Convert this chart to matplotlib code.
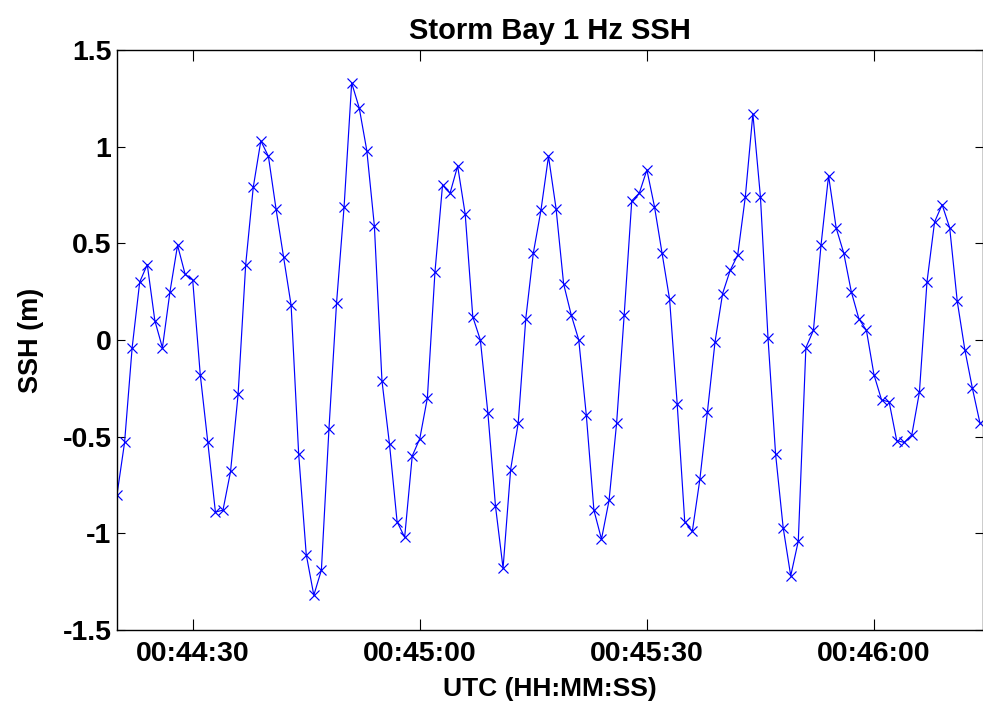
import matplotlib
matplotlib.use("Agg")
import matplotlib.pyplot as plt
from matplotlib.ticker import FuncFormatter, FixedLocator
import numpy as np

plt.rcParams['font.family'] = ['Liberation Sans', 'DejaVu Sans']
plt.rcParams['axes.unicode_minus'] = False

# time of first sample (seconds after midnight, UTC) and 1 Hz sampling
start_time_s = 44 * 60 + 20  # 00:44:20
ssh = [
    -0.80, -0.53, -0.04, 0.30, 0.39, 0.10, -0.04, 0.25, 0.49, 0.34,
    0.31, -0.18, -0.53, -0.89, -0.88, -0.68, -0.28, 0.39, 0.79, 1.03,
    0.95, 0.68, 0.43, 0.18, -0.59, -1.11, -1.32, -1.19, -0.46, 0.19,
    0.69, 1.33, 1.20, 0.98, 0.59, -0.21, -0.54, -0.94, -1.02, -0.60,
    -0.51, -0.30, 0.35, 0.80, 0.76, 0.90, 0.65, 0.12, 0.00, -0.38,
    -0.86, -1.18, -0.67, -0.43, 0.11, 0.45, 0.67, 0.95, 0.68, 0.29,
    0.13, 0.00, -0.39, -0.88, -1.03, -0.83, -0.43, 0.13, 0.72, 0.76,
    0.88, 0.69, 0.45, 0.21, -0.33, -0.94, -0.99, -0.72, -0.37, -0.01,
    0.24, 0.36, 0.44, 0.74, 1.17, 0.74, 0.01, -0.59, -0.97, -1.22,
    -1.04, -0.04, 0.05, 0.49, 0.85, 0.58, 0.45, 0.25, 0.11, 0.05,
    -0.18, -0.31, -0.32, -0.52, -0.53, -0.49, -0.27, 0.30, 0.61, 0.70,
    0.58, 0.20, -0.05, -0.25, -0.43,
]
times_s = [start_time_s + i for i in range(len(ssh))]

x_tick_labels = ["00:44:30", "00:45:00", "00:45:30", "00:46:00"]
y_ticks = [-1.5, -1, -0.5, 0, 0.5, 1, 1.5]

def hms_to_s(s):
    h, m, sec = (int(v) for v in s.split(":"))
    return h * 3600 + m * 60 + sec

fig = plt.figure(figsize=(9.83, 7.03), dpi=100)
ax = fig.add_axes([117 / 983, 1 - 630 / 703, 1 - 117 / 983, (630 - 50) / 703])

ax.plot(times_s, ssh, color=(0, 0, 1), linewidth=0.85, marker='x',
        markersize=6.5, markeredgewidth=0.85)

ax.set_xlim(times_s[0], times_s[-1] + 0.4)
ax.set_ylim(-1.5, 1.5)
ax.xaxis.set_major_locator(FixedLocator([hms_to_s(t) for t in x_tick_labels]))
ax.xaxis.set_major_formatter(FuncFormatter(
    lambda v, p: "%02d:%02d:%02d" % (int(v) // 3600, (int(v) % 3600) // 60, int(v) % 60)))
ax.set_yticks(y_ticks)
ax.yaxis.set_major_formatter(FuncFormatter(lambda v, p: "%g" % v))

ax.tick_params(axis='both', direction='in', top=True, right=True,
               labelsize=20.5, width=0.8)
ax.tick_params(axis='x', length=8, pad=8)
ax.tick_params(axis='y', length=6, pad=4)
for lab in ax.get_xticklabels() + ax.get_yticklabels():
    lab.set_fontweight('bold')
for sp in ax.spines.values():
    sp.set_linewidth(1.0)

ax.set_xlabel("UTC (HH:MM:SS)", fontsize=19, fontweight='bold', labelpad=7)
ax.set_ylabel("SSH (m)", fontsize=19.5, fontweight='bold', labelpad=13)
ax.set_title("Storm Bay 1 Hz SSH", fontsize=21, fontweight='bold', pad=8)

fig.savefig("out.png", dpi=100)
